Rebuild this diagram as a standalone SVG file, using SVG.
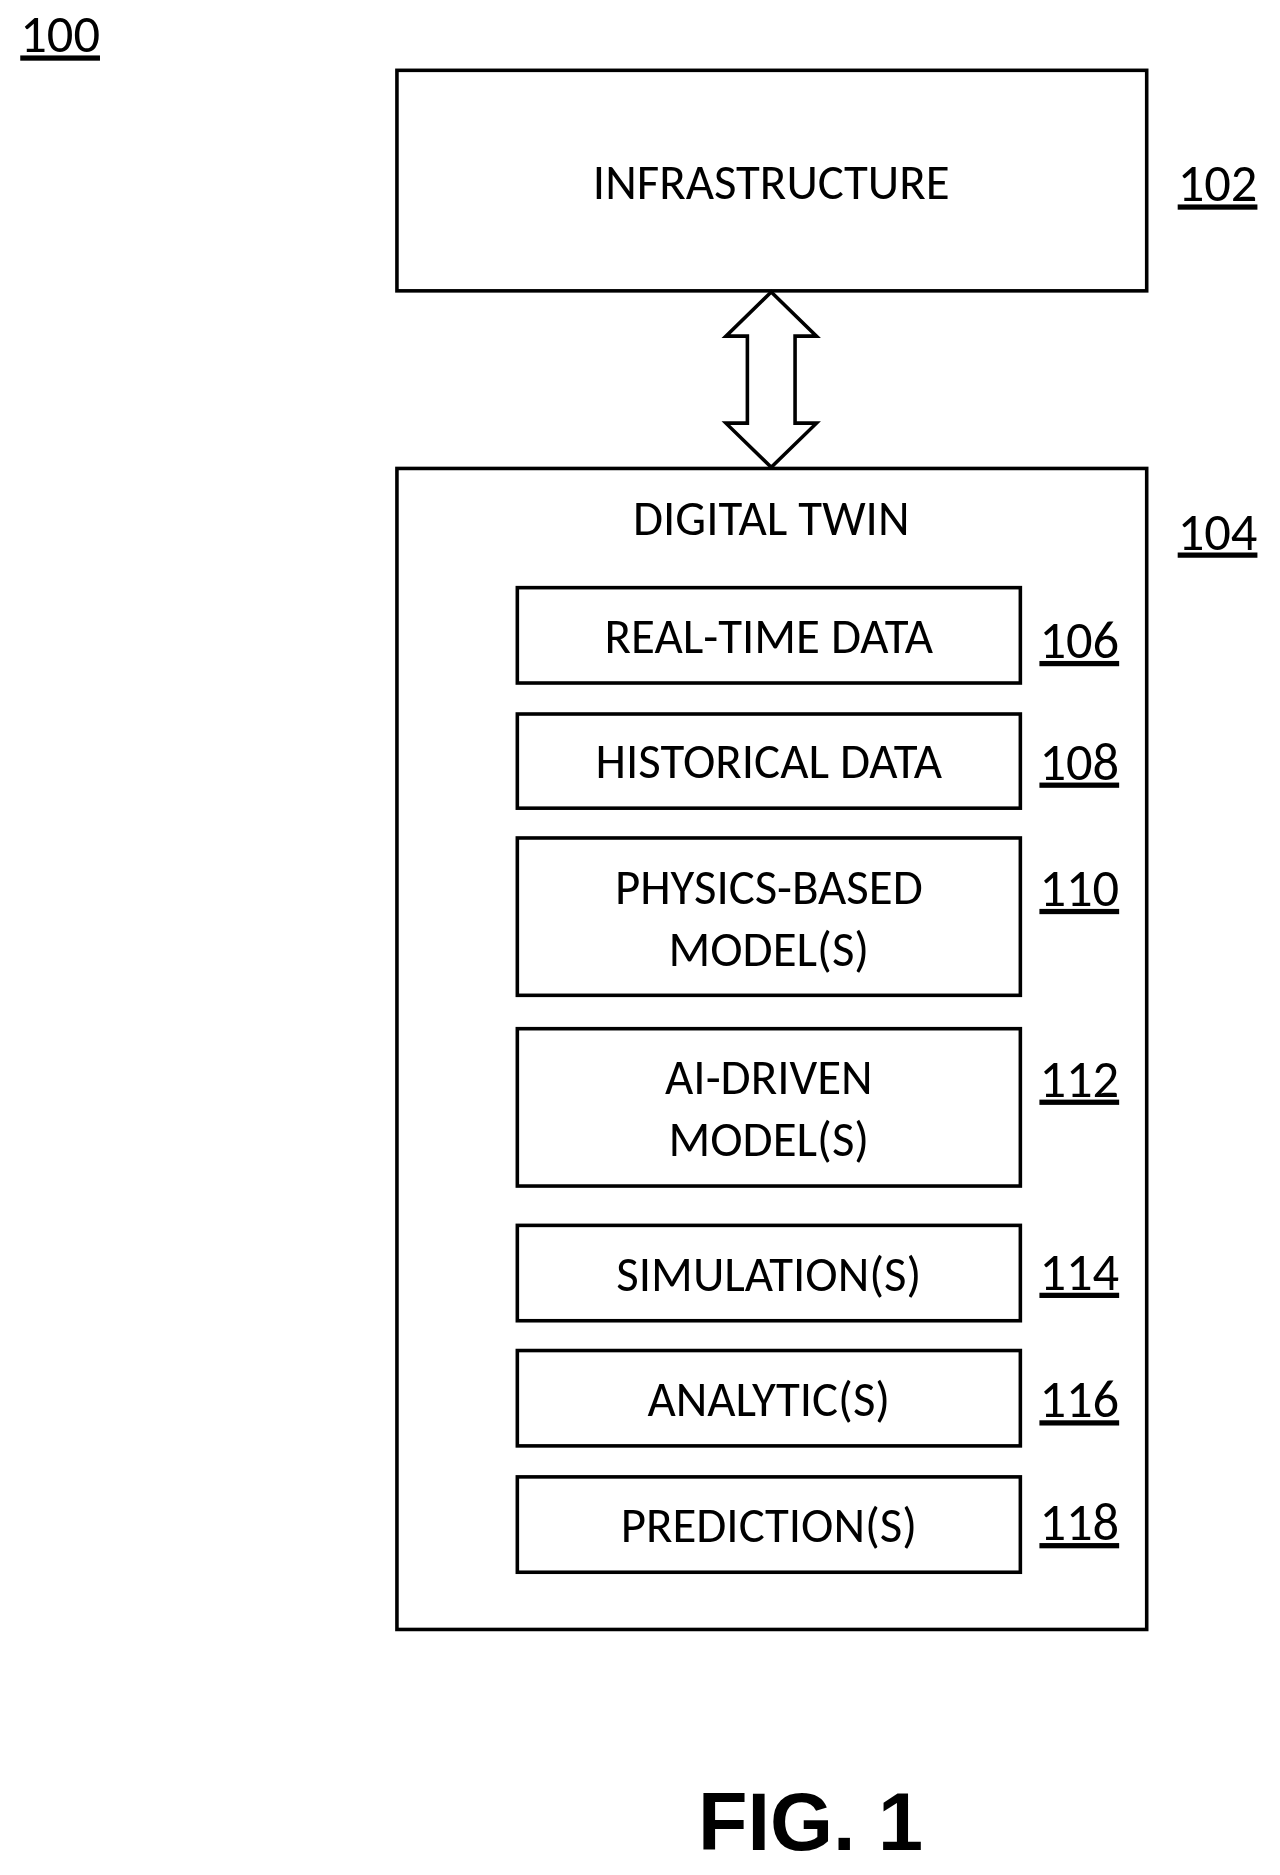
<svg xmlns="http://www.w3.org/2000/svg" width="1280" height="1875" viewBox="0 0 1280 1875">
<style>
.b{fill:#fff;stroke:#000;stroke-width:3}
.t{font-family:Carlito,"Open Sans","Liberation Sans",sans-serif;font-size:41px;text-anchor:middle;fill:#000}
.r{font-family:Carlito,"Open Sans","Liberation Sans",sans-serif;font-size:44px;fill:#000;text-decoration:underline}
</style>
<rect width="1280" height="1875" fill="#fff"/>
<g transform="scale(1.192)">
<text class="r" x="17" y="44">100</text>
<g id="n102"><rect class="b" x="333" y="59" width="629" height="185"/><text class="t" x="647" y="167">INFRASTRUCTURE</text><text class="r" x="988" y="169">102</text></g>
<g id="connectors"><polygon class="b" points="647,245 685,282 667,282 667,355 685,355 647,392 609,355 627,355 627,282 609,282"/></g>
<g id="n104"><rect class="b" x="333" y="393" width="629" height="974"/><text class="t" x="647" y="449">DIGITAL TWIN</text><text class="r" x="988" y="461">104</text></g>
<g id="n106"><rect class="b" x="434" y="493" width="422" height="80"/><text class="t" x="645" y="548">REAL-TIME DATA</text><text class="r" x="872" y="552">106</text></g>
<g id="n108"><rect class="b" x="434" y="599" width="422" height="79"/><text class="t" x="645" y="653">HISTORICAL DATA</text><text class="r" x="872" y="654">108</text></g>
<g id="n110"><rect class="b" x="434" y="703" width="422" height="132"/><text class="t" x="645" y="758">PHYSICS-BASED</text><text class="t" x="645" y="810">MODEL(S)</text><text class="r" x="872" y="760">110</text></g>
<g id="n112"><rect class="b" x="434" y="863" width="422" height="132"/><text class="t" x="645" y="918">AI-DRIVEN</text><text class="t" x="645" y="970">MODEL(S)</text><text class="r" x="872" y="920">112</text></g>
<g id="n114"><rect class="b" x="434" y="1028" width="422" height="80"/><text class="t" x="645" y="1083">SIMULATION(S)</text><text class="r" x="872" y="1082">114</text></g>
<g id="n116"><rect class="b" x="434" y="1133" width="422" height="80"/><text class="t" x="645" y="1188">ANALYTIC(S)</text><text class="r" x="872" y="1189">116</text></g>
<g id="n118"><rect class="b" x="434" y="1239" width="422" height="80"/><text class="t" x="645" y="1294">PREDICTION(S)</text><text class="r" x="872" y="1292">118</text></g>
<text x="680" y="1552" font-family="Liberation Sans,Arial,sans-serif" font-weight="bold" font-size="68" text-anchor="middle">FIG. 1</text>
</g>
</svg>
